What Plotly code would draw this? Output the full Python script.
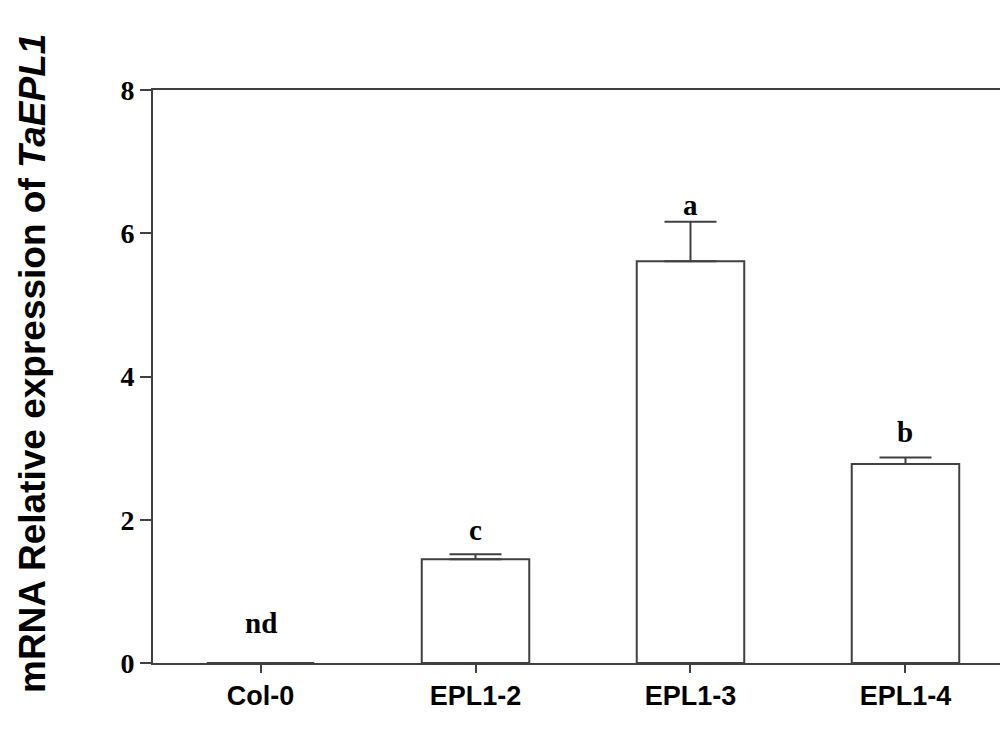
import plotly.graph_objects as go

categories = ["Col-0", "EPL1-2", "EPL1-3", "EPL1-4"]
values = [0, 1.45, 5.61, 2.78]
errors = [0, 0.07, 0.55, 0.09]
letters = ["nd", "c", "a", "b"]
letter_y = [0.56, 1.86, 6.4, 3.23]
y_ticks = [0, 2, 4, 6, 8]

line_col = "#404040"

L, T, B = 145, 82, 91
W, H = 1008, 746
pw = W - L
ph = H - T - B

fig = go.Figure()
fig.add_trace(go.Bar(
    x=categories, y=values, width=0.5,
    marker=dict(color="white", line=dict(color=line_col, width=2)),
    error_y=dict(type="data", symmetric=False, array=errors,
                 arrayminus=[0] * len(errors), color=line_col,
                 thickness=2, width=26),
    showlegend=False,
))

for c, t, yy in zip(categories, letters, letter_y):
    fig.add_annotation(x=c, y=yy, text=t, showarrow=False,
                       font=dict(family="Liberation Serif", size=29, color="black", weight="bold"),
                       xanchor="center", yanchor="middle")

fig.add_annotation(xref="paper", yref="paper", x=(24 - L) / pw, y=(T + ph - 356) / ph,
                   xanchor="center", yanchor="middle", textangle=-90, showarrow=False,
                   text="mRNA Relative expression of <i>TaEPL1</i>",
                   font=dict(family="Liberation Sans", size=37, color="black", weight="bold"))

fig.update_layout(
    width=W, height=H,
    margin=dict(l=L, r=0, t=T, b=B, autoexpand=False),
    plot_bgcolor="white", paper_bgcolor="white",
    xaxis=dict(range=[-0.5, 3.514], showline=True, linecolor=line_col, linewidth=2,
               mirror=True, ticks="outside", ticklen=8, tickwidth=2, tickcolor=line_col,
               tickfont=dict(family="Liberation Sans", size=27, color="black", weight="bold"),
               showgrid=False, zeroline=False),
    yaxis=dict(range=[0, 8], tickvals=y_ticks, showline=True, linecolor=line_col, linewidth=2,
               ticks="outside", ticklen=11, tickwidth=2, tickcolor=line_col,
               tickfont=dict(family="Liberation Serif", size=28, color="black", weight="bold"),
               showgrid=False, zeroline=False),
)

fig.write_html("out.html")
